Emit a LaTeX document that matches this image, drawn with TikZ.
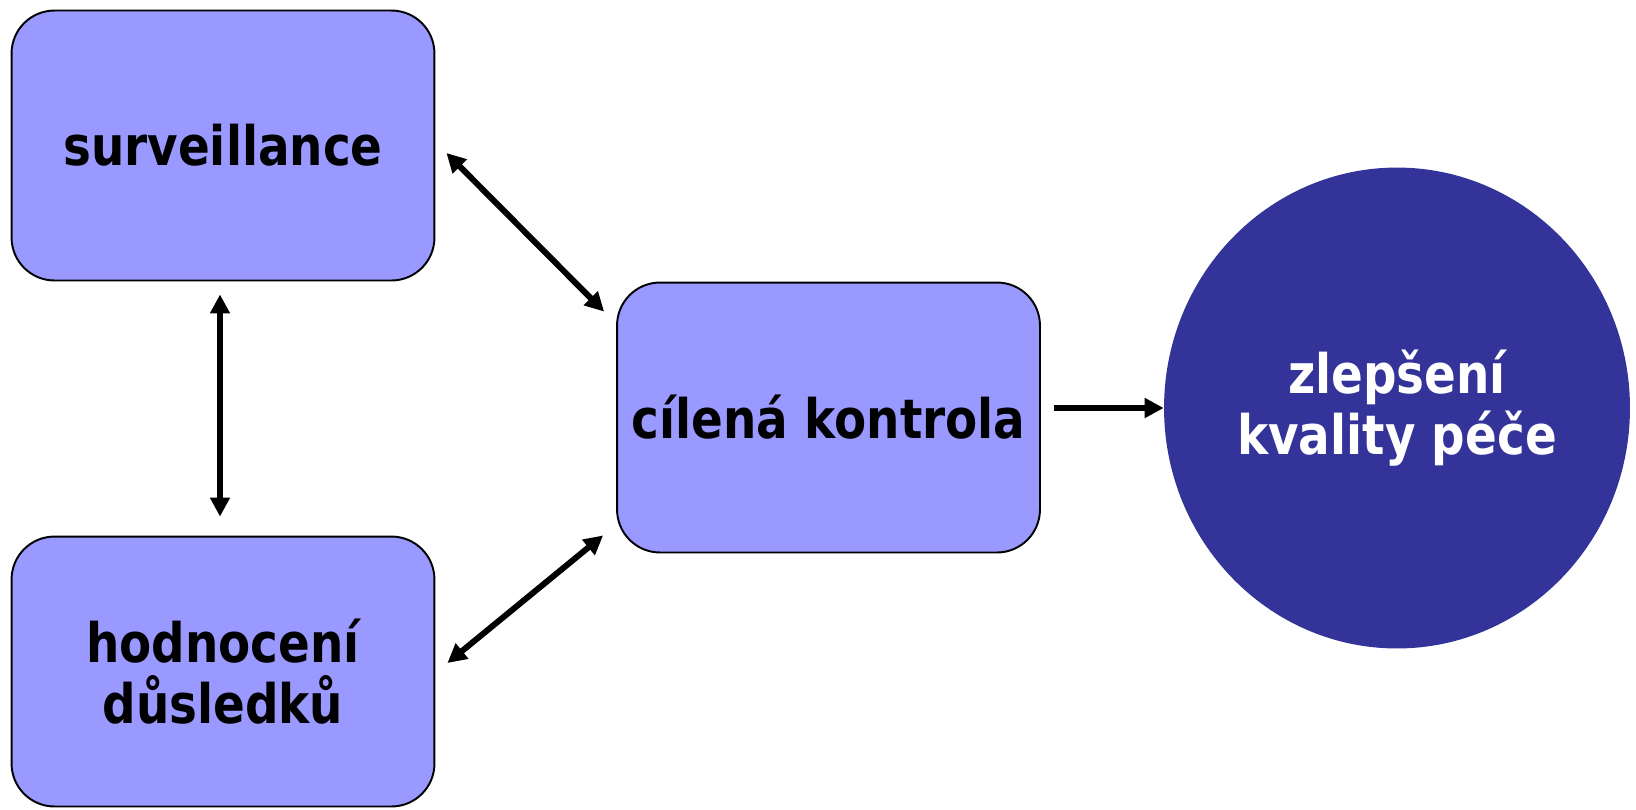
\documentclass[tikz,border=0pt]{standalone}
\usepackage{fontspec}
\setmainfont{DejaVu Sans}[FakeStretch=0.86]
\usepackage{tikz}
\usetikzlibrary{arrows.meta, shapes.geometric}
\usepackage{xcolor}
\definecolor{xlilac}{HTML}{9999FF}
\definecolor{xnavy}{HTML}{333399}
\tikzset{
	box/.style={draw=black, line width=1.1pt, fill=xlilac, rounded corners=0.86cm,
		minimum width=8.46cm, minimum height=5.40cm, align=center,
		font=\fontsize{31}{35}\selectfont\bfseries},
	goal/.style={ellipse, fill=xnavy, text=white, inner sep=0pt,
		minimum width=9.32cm, minimum height=9.62cm, align=center,
		font=\fontsize{31}{35}\selectfont\bfseries},
	arrow/.style={line width=3.4pt, -{Triangle[length=0.38cm, width=0.38cm]}},
	biarrow/.style={line width=3.4pt, {Triangle[length=0.38cm, width=0.38cm]}-{Triangle[length=0.38cm, width=0.38cm]}},
}

\begin{document}
\begin{tikzpicture}[x=0.02cm, y=-0.02cm]
		\useasboundingbox (0,0) rectangle (1636,809);

		% Three boxes
		\node[box] (surv) at (223,145.5) {surveillance};
		\node[box] (hodn) at (223,671.5) {hodnocení\\důsledků};
		\node[box] (cil) at (828.5,417.5) {cílená kontrola};

		% Result
		\node[goal] (zlep) at (1397,408) {zlepšení\\kvality péče};

		\draw[biarrow] ([shift={(11,7.5)}]surv.east) -- ([shift={(-12,30)}]cil.north west);
		\draw[biarrow] ([shift={(12,-8.5)}]hodn.east) -- ([shift={(-13,-18)}]cil.south west);
		\draw[biarrow] ([shift={(-3,13)}]surv.south) -- ([shift={(-3,-19)}]hodn.north);

		\draw[arrow] ([shift={(13,-9.5)}]cil.east) -- (zlep.west);
	\end{tikzpicture}
\end{document}
